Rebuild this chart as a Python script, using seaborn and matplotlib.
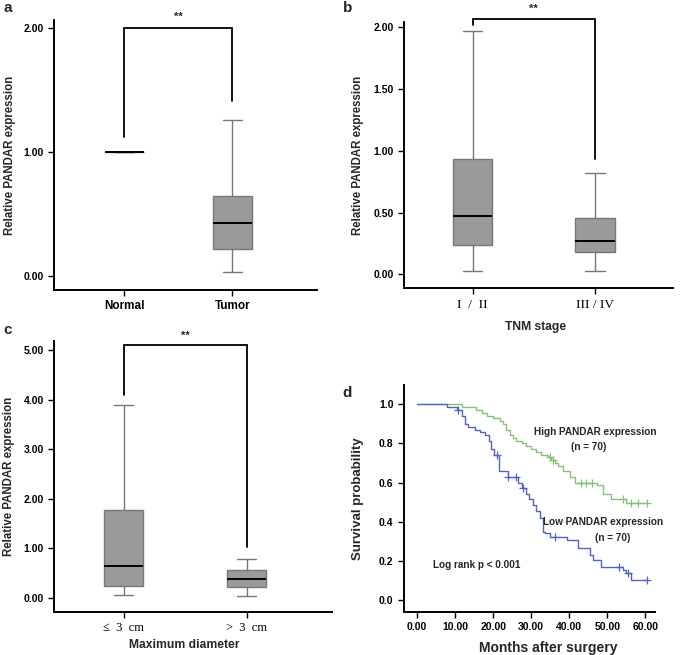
import numpy as np
import pandas as pd
import matplotlib
matplotlib.use("Agg")
import matplotlib.pyplot as plt
import seaborn as sns

# five-number summaries: min, q1, median, q3, max
expr_labels = ["Normal", "Tumor"]
normal_box = [1.00, 1.00, 1.00, 1.00, 1.00]
tumor_box = [0.03, 0.22, 0.43, 0.65, 1.26]

stage_labels = ["I  /  II", "III / IV"]
stage12_box = [0.03, 0.24, 0.47, 0.93, 1.97]
stage34_box = [0.03, 0.18, 0.27, 0.46, 0.82]

diam_labels = ["\u2264  3  cm", ">  3  cm"]
small_box = [0.05, 0.24, 0.63, 1.77, 3.89]
large_box = [0.03, 0.22, 0.38, 0.56, 0.79]

# significance brackets: bracket top, left leg end, right leg end
bracket_a = [2.00, 1.12, 1.41]
bracket_b = [2.07, 2.02, 0.93]
bracket_c = [5.10, 4.10, 1.03]

# Kaplan-Meier steps (months, survival)
high_t = [0, 11.7, 15.5, 17.0, 18.5, 20.0, 21.7, 22.6, 23.5, 24.3, 25.2, 26.1, 27.5,
          28.7, 30.0, 31.3, 32.7, 34.4, 35.3, 36.2, 37.0, 38.4, 40.1, 41.5, 47.2,
          48.9, 51.0, 55.0, 60.3]
high_s = [1.0, 0.986, 0.971, 0.957, 0.943, 0.929, 0.914, 0.900, 0.871, 0.843, 0.829,
          0.814, 0.800, 0.786, 0.771, 0.757, 0.743, 0.729, 0.714, 0.700, 0.686, 0.657,
          0.629, 0.600, 0.586, 0.543, 0.514, 0.494, 0.494]
high_censor = [35.0, 35.8, 43.2, 44.4, 45.9, 54.2, 56.3, 58.1, 60.3]

low_t = [0, 7.8, 10.4, 11.7, 12.6, 13.5, 15.2, 16.5, 17.8, 18.8, 19.5, 20.1, 21.6,
         23.8, 26.4, 27.7, 28.6, 29.5, 30.5, 31.3, 32.2, 33.1, 33.5, 35.0, 39.3, 42.3,
         45.4, 46.3, 48.3, 54.1, 55.0, 56.3, 60.3]
low_s = [1.0, 0.986, 0.971, 0.943, 0.900, 0.886, 0.871, 0.857, 0.843, 0.814, 0.771,
         0.743, 0.657, 0.629, 0.600, 0.571, 0.543, 0.514, 0.486, 0.457, 0.419, 0.350,
         0.341, 0.323, 0.307, 0.264, 0.230, 0.204, 0.170, 0.153, 0.136, 0.104, 0.104]
low_censor = [10.8, 20.9, 24.0, 26.0, 27.9, 36.2, 53.1, 55.3, 60.3]

BOX = "#9a9a9a"
EDGE = "#777777"
GREEN = "#86c271"
BLUE = "#5463c0"
SANS = ["Liberation Sans", "DejaVu Sans"]
SERIF = ["Liberation Serif", "DejaVu Serif"]

sns.set_theme(style="ticks")
plt.rcParams["font.family"] = SANS
plt.rcParams["axes.linewidth"] = 1.4


def style_axis(ax):
    sns.despine(ax=ax)
    for s in ["left", "bottom"]:
        ax.spines[s].set_color("black")
    ax.tick_params(direction="out", length=4, width=1, color="black",
                   labelsize=7.5, labelcolor="black")
    for lab in ax.get_yticklabels():
        lab.set_fontweight("bold")


def draw_box(ax, labels, boxes, width):
    df = pd.DataFrame({"group": np.repeat(labels, 5), "value": np.concatenate(boxes)})
    sns.boxplot(data=df, x="group", y="value", order=labels, ax=ax, whis=(0, 100),
                width=width, color=BOX, linecolor=EDGE, linewidth=1, saturation=1,
                showfliers=False, medianprops={"color": "black", "linewidth": 1.4})


def bracket(ax, levels, star_y):
    top, left_end, right_end = levels
    ax.plot([0, 0, 1, 1], [left_end, top, top, right_end], color="black", lw=1.3,
            solid_joinstyle="miter", clip_on=False)
    ax.text(0.5, star_y, "**", ha="center", va="center", fontsize=8,
            fontweight="bold", clip_on=False)


fig = plt.figure(figsize=(6.85, 6.55), dpi=100)
W, H = 685, 655


def add_axes(left, top, right, bottom):
    return fig.add_axes([left / W, 1 - bottom / H, (right - left) / W, (bottom - top) / H])


# panel a
ax_a = add_axes(54.3, 20, 316.7, 290)
draw_box(ax_a, expr_labels, [normal_box, tumor_box], 0.36)
bracket(ax_a, bracket_a, 2.09)
ax_a.set_xlim(-0.648, 1.78)
ax_a.set_ylim(-0.113, 2.068)
ax_a.set_yticks([0, 1, 2])
ax_a.set_yticklabels(["0.00", "1.00", "2.00"])
style_axis(ax_a)
ax_a.set_xticks([0, 1])
ax_a.set_xticklabels(expr_labels, fontsize=8.5, fontweight="bold")
ax_a.set_xlabel("")
ax_a.set_ylabel("Relative PANDAR expression", fontsize=8.3, fontweight="bold")
ax_a.yaxis.set_label_coords(-0.145, 0.5)

# panel b
ax_b = add_axes(404, 21.7, 673, 288.3)
draw_box(ax_b, stage_labels, [stage12_box, stage34_box], 0.32)
bracket(ax_b, bracket_b, 2.15)
ax_b.set_xlim(-0.562, 1.638)
ax_b.set_ylim(-0.113, 2.045)
ax_b.set_yticks([0, 0.5, 1.0, 1.5, 2.0])
ax_b.set_yticklabels(["0.00", "0.50", "1.00", "1.50", "2.00"])
style_axis(ax_b)
ax_b.set_xticks([0, 1])
ax_b.set_xticklabels(stage_labels, fontsize=9.5, family=SERIF)
ax_b.set_xlabel("TNM stage", fontsize=8.7, fontweight="bold")
ax_b.xaxis.set_label_coords(0.49, -0.123)
ax_b.set_ylabel("Relative PANDAR expression", fontsize=8.3, fontweight="bold")
ax_b.yaxis.set_label_coords(-0.149, 0.5)

# panel c
ax_c = add_axes(54.3, 340.7, 331.7, 611.7)
draw_box(ax_c, diam_labels, [small_box, large_box], 0.315)
bracket(ax_c, bracket_c, 5.28)
ax_c.set_xlim(-0.564, 1.691)
ax_c.set_ylim(-0.283, 5.19)
ax_c.set_yticks([0, 1, 2, 3, 4, 5])
ax_c.set_yticklabels(["0.00", "1.00", "2.00", "3.00", "4.00", "5.00"])
style_axis(ax_c)
ax_c.set_xticks([0, 1])
ax_c.set_xticklabels(diam_labels, fontsize=9, family=SERIF)
ax_c.set_xlabel("Maximum diameter", fontsize=8.7, fontweight="bold")
ax_c.xaxis.set_label_coords(0.47, -0.1)
ax_c.set_ylabel("Relative PANDAR expression", fontsize=8.3, fontweight="bold")
ax_c.yaxis.set_label_coords(-0.142, 0.5)

# panel d
ax_d = add_axes(404, 385, 655, 611.7)
sns.lineplot(x=high_t, y=high_s, drawstyle="steps-post", estimator=None, sort=False,
             color=GREEN, lw=1, ax=ax_d)
sns.lineplot(x=low_t, y=low_s, drawstyle="steps-post", estimator=None, sort=False,
             color=BLUE, lw=1, ax=ax_d)
for times, surv, cens, col in [(high_t, high_s, high_censor, GREEN),
                               (low_t, low_s, low_censor, BLUE)]:
    idx = np.searchsorted(times, cens, side="right") - 1
    sns.scatterplot(x=cens, y=np.array(surv)[idx], marker="+", s=28, color=col,
                    linewidth=0.9, ax=ax_d, legend=False)
ax_d.set_xlim(-3.4, 62.5)
ax_d.set_ylim(-0.06, 1.099)
ax_d.set_xticks(np.arange(0, 61, 10))
ax_d.set_xticklabels([f"{v:.2f}" for v in np.arange(0, 61, 10)])
ax_d.set_yticks(np.arange(0, 1.01, 0.2))
ax_d.set_yticklabels([f"{v:.1f}" for v in np.arange(0, 1.01, 0.2)])
style_axis(ax_d)
for lab in ax_d.get_xticklabels():
    lab.set_fontweight("bold")
ax_d.set_xlabel("Months after surgery", fontsize=10, fontweight="bold")
ax_d.xaxis.set_label_coords(0.575, -0.13)
ax_d.set_ylabel("Survival probability", fontsize=9.5, fontweight="bold")
ax_d.yaxis.set_label_coords(-0.159, 0.5)
ax_d.text(46.7, 0.86, "High PANDAR expression", ha="center", va="center",
          fontsize=7.2, fontweight="bold")
ax_d.text(45.2, 0.783, "(n = 70)", ha="center", va="center", fontsize=7.2, fontweight="bold")
ax_d.text(48.8, 0.40, "Low PANDAR expression", ha="center", va="center",
          fontsize=7.2, fontweight="bold")
ax_d.text(51.5, 0.315, "(n = 70)", ha="center", va="center", fontsize=7.2, fontweight="bold")
ax_d.text(15.7, 0.179, "Log rank p < 0.001", ha="center", va="center",
          fontsize=7.2, fontweight="bold")

# panel letters
for letter, x, y in [("a", 3, 8), ("b", 343, 8), ("c", 3, 330), ("d", 342, 393)]:
    fig.text(x / W, 1 - y / H, letter, ha="left", va="center", fontsize=11,
             fontweight="bold")

fig.savefig("out.png", dpi=100)
